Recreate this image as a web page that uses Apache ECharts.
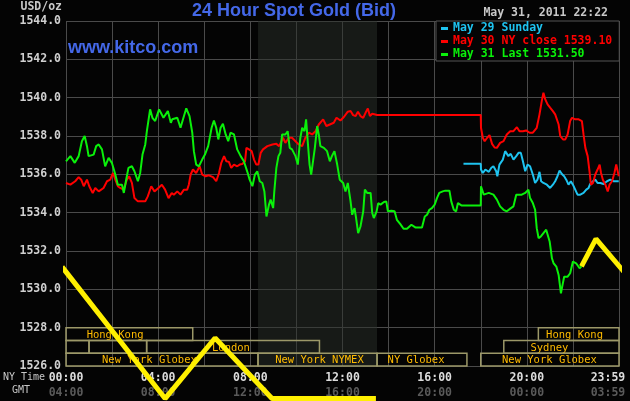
<!DOCTYPE html>
<html>
<head>
<meta charset="utf-8">
<script src="https://cdn.jsdelivr.net/npm/echarts@6/dist/echarts.min.js"></script>
<style>
html,body{margin:0;padding:0;background:#040404;}
#chart{width:630px;height:401px;}
</style>
</head>
<body>
<div id="chart"></div>
<script>
// ---- data (hours NY time, USD/oz) ----
const may29 = [[17.25,1536.55],[18.0,1536.55],[18.01,1536.25],[18.09,1536.07],[18.2,1536.25],[18.35,1536.13],[18.46,1536.34],[18.55,1536.42],[18.67,1536.16],[18.72,1535.9],[18.81,1536.51],[18.96,1536.77],[19.06,1537.21],[19.2,1536.95],[19.3,1537.07],[19.42,1536.77],[19.54,1536.95],[19.64,1537.12],[19.74,1537.12],[19.83,1536.68],[19.93,1536.16],[20.03,1536.51],[20.14,1536.42],[20.26,1535.99],[20.36,1535.55],[20.46,1535.72],[20.55,1536.13],[20.62,1535.64],[20.72,1535.55],[20.87,1535.46],[21.01,1535.29],[21.13,1535.46],[21.23,1535.64],[21.33,1535.9],[21.42,1536.2],[21.52,1536.02],[21.62,1535.9],[21.71,1535.72],[21.81,1535.46],[21.91,1535.64],[22.0,1535.46],[22.1,1535.2],[22.2,1534.94],[22.32,1534.94],[22.46,1535.03],[22.58,1535.2],[22.68,1535.29],[22.75,1535.5],[22.87,1535.64],[22.97,1535.72],[23.07,1535.55],[23.19,1535.55],[23.33,1535.5],[23.48,1535.64],[23.62,1535.72],[23.77,1535.64],[23.91,1535.64],[23.99,1535.64]];

const may30 = [[0,1535.55],[0.19,1535.46],[0.4,1535.64],[0.55,1535.85],[0.66,1535.72],[0.77,1535.38],[0.91,1535.72],[1.01,1535.38],[1.16,1535.03],[1.27,1535.29],[1.42,1535.11],[1.63,1535.29],[1.78,1535.64],[1.92,1535.72],[2.04,1536.07],[2.14,1535.72],[2.25,1535.38],[2.35,1535.29],[2.5,1535.2],[2.64,1535.72],[2.74,1535.9],[2.86,1535.55],[2.97,1534.76],[3.12,1534.59],[3.29,1534.59],[3.44,1534.59],[3.55,1534.85],[3.7,1535.38],[3.84,1535.11],[4.01,1535.29],[4.16,1535.46],[4.3,1535.2],[4.45,1534.76],[4.59,1535.03],[4.68,1534.94],[4.83,1535.11],[4.97,1534.94],[5.12,1535.2],[5.26,1535.2],[5.33,1535.46],[5.41,1535.99],[5.51,1536.25],[5.65,1536.07],[5.8,1536.42],[5.91,1535.99],[6.06,1535.9],[6.2,1535.95],[6.38,1535.85],[6.52,1535.64],[6.64,1536.07],[6.74,1536.6],[6.86,1536.95],[6.96,1536.68],[7.07,1536.65],[7.17,1536.34],[7.29,1536.51],[7.43,1536.42],[7.54,1536.51],[7.65,1536.54],[7.77,1536.68],[7.83,1537.38],[7.94,1537.3],[8.06,1537.21],[8.16,1536.77],[8.26,1536.51],[8.35,1536.51],[8.45,1537.12],[8.55,1537.3],[8.74,1537.47],[8.96,1537.56],[9.13,1537.59],[9.25,1537.47],[9.3,1537.47],[9.42,1537.91],[9.52,1537.64],[9.67,1537.91],[9.81,1537.91],[9.96,1537.73],[10.1,1537.56],[10.25,1537.47],[10.39,1537.91],[10.54,1538.17],[10.68,1538.08],[10.83,1538.25],[10.97,1538.6],[11.16,1538.87],[11.3,1538.52],[11.45,1538.6],[11.62,1538.69],[11.74,1538.95],[11.91,1538.81],[12.06,1538.99],[12.23,1539.27],[12.35,1539.3],[12.46,1539.09],[12.57,1539.04],[12.67,1539.27],[12.78,1539.04],[12.9,1538.95],[13.0,1539.21],[13.1,1539.44],[13.19,1539.04],[13.29,1539.16],[13.5,1539.1],[18.0,1539.1],[18.01,1538.43],[18.09,1537.91],[18.17,1537.73],[18.28,1537.91],[18.38,1538.05],[18.49,1537.59],[18.6,1537.4],[18.7,1537.38],[18.84,1537.64],[18.99,1537.73],[19.13,1538.08],[19.28,1538.25],[19.42,1538.25],[19.57,1538.46],[19.68,1538.25],[19.83,1538.25],[19.97,1538.29],[20.12,1538.17],[20.26,1538.17],[20.43,1538.43],[20.55,1539.13],[20.65,1539.83],[20.72,1540.26],[20.8,1539.91],[20.9,1539.65],[21.01,1539.48],[21.13,1539.3],[21.23,1539.13],[21.3,1539.13],[21.38,1538.6],[21.45,1537.99],[21.57,1537.82],[21.67,1537.82],[21.77,1538.08],[21.88,1538.78],[21.96,1538.95],[22.1,1538.87],[22.25,1538.87],[22.39,1538.78],[22.46,1538.08],[22.54,1537.38],[22.64,1536.95],[22.72,1536.16],[22.78,1535.46],[22.87,1535.55],[22.97,1535.99],[23.07,1536.25],[23.16,1536.51],[23.22,1536.07],[23.3,1535.72],[23.41,1535.46],[23.51,1535.11],[23.59,1535.46],[23.7,1535.64],[23.8,1536.07],[23.88,1536.51],[23.94,1536.51],[23.99,1535.9]];

const may31 = [[0,1536.68],[0.19,1536.95],[0.38,1536.6],[0.55,1536.95],[0.69,1537.73],[0.81,1538.0],[0.91,1537.47],[0.98,1536.95],[1.2,1537.03],[1.31,1537.47],[1.42,1537.56],[1.56,1537.3],[1.7,1536.42],[1.85,1536.86],[1.99,1536.6],[2.14,1535.99],[2.25,1535.46],[2.43,1535.46],[2.51,1535.03],[2.6,1535.64],[2.71,1536.34],[2.86,1536.42],[2.97,1536.16],[3.12,1535.64],[3.22,1536.07],[3.32,1537.03],[3.44,1537.56],[3.51,1538.25],[3.65,1539.39],[3.75,1538.95],[3.87,1538.78],[4.04,1539.39],[4.23,1538.95],[4.42,1539.3],[4.55,1538.69],[4.61,1538.87],[4.83,1538.95],[4.97,1538.43],[5.12,1539.04],[5.22,1539.44],[5.36,1539.04],[5.48,1538.17],[5.55,1537.21],[5.65,1536.51],[5.77,1536.42],[5.91,1536.77],[6.03,1537.03],[6.17,1537.47],[6.32,1538.43],[6.42,1538.81],[6.52,1538.43],[6.61,1537.82],[6.71,1538.43],[6.81,1538.64],[6.93,1538.08],[7.04,1537.73],[7.14,1538.17],[7.29,1538.08],[7.43,1537.3],[7.58,1536.95],[7.72,1536.68],[7.87,1536.13],[7.97,1535.72],[8.09,1535.38],[8.2,1535.99],[8.3,1536.16],[8.41,1535.64],[8.52,1535.55],[8.61,1535.11],[8.7,1533.8],[8.81,1534.42],[8.88,1534.68],[8.99,1534.24],[9.04,1535.11],[9.13,1536.34],[9.22,1536.95],[9.3,1537.12],[9.38,1538.08],[9.52,1538.08],[9.62,1538.25],[9.71,1537.38],[9.81,1537.3],[9.96,1536.95],[10.06,1536.51],[10.17,1537.91],[10.25,1538.43],[10.35,1538.25],[10.42,1538.87],[10.49,1537.73],[10.57,1536.51],[10.64,1535.99],[10.72,1536.68],[10.8,1537.38],[10.9,1538.52],[10.97,1538.08],[11.04,1537.47],[11.19,1537.38],[11.33,1537.21],[11.45,1536.68],[11.54,1536.95],[11.65,1537.21],[11.77,1536.51],[11.88,1535.72],[12.03,1535.55],[12.13,1535.11],[12.23,1535.55],[12.35,1534.59],[12.42,1533.89],[12.52,1534.24],[12.59,1533.72],[12.68,1532.93],[12.78,1533.28],[12.9,1534.07],[12.97,1535.2],[13.07,1535.03],[13.22,1535.03],[13.29,1533.98],[13.36,1533.72],[13.48,1534.07],[13.55,1534.5],[13.65,1534.42],[13.8,1534.56],[13.9,1534.59],[13.97,1534.07],[14.12,1534.1],[14.26,1534.07],[14.36,1533.63],[14.51,1533.4],[14.65,1533.16],[14.8,1533.16],[14.99,1533.37],[15.16,1533.23],[15.45,1533.23],[15.57,1533.8],[15.67,1533.89],[15.77,1534.15],[15.88,1534.24],[16.0,1534.42],[16.1,1534.76],[16.2,1535.03],[16.35,1535.11],[16.46,1535.15],[16.64,1535.15],[16.72,1534.59],[16.83,1534.15],[16.93,1534.07],[17.01,1534.5],[17.16,1534.38],[18.0,1534.38],[18.01,1535.38],[18.13,1534.94],[18.35,1535.03],[18.55,1534.94],[18.7,1534.68],[18.84,1534.33],[18.99,1534.15],[19.13,1534.07],[19.28,1534.21],[19.42,1534.33],[19.54,1534.94],[19.64,1534.94],[19.78,1534.94],[19.93,1535.03],[20.07,1535.2],[20.14,1534.76],[20.26,1534.5],[20.36,1534.15],[20.43,1533.19],[20.51,1532.67],[20.61,1532.76],[20.72,1532.93],[20.84,1533.11],[20.91,1533.16],[20.99,1532.5],[21.09,1531.62],[21.16,1531.36],[21.28,1531.19],[21.38,1530.75],[21.48,1529.79],[21.55,1530.23],[21.62,1530.66],[21.77,1530.66],[21.88,1530.84],[22.0,1531.45],[22.14,1531.36],[22.29,1531.1],[22.37,1531.2]];

// yellow scribble overlay
const scribbleA = [[-0.17,1531.17],[4.3,1524.3],[6.47,1527.46],[8.94,1524.3],[13.45,1524.3]];
const scribbleB = [[22.37,1531.2],[23.0,1532.63],[24.48,1530.54]];

// axis ticks
const yMin = 1526, yMax = 1544, yStep = 2;
const xLabelHours = [0,4,8,12,16,20,23.52];
const nyTimeLabels = ['00:00','04:00','08:00','12:00','16:00','20:00','23:59'];
const gmtLabels = ['04:00','08:00','12:00','16:00','20:00','00:00','03:59'];

// NYMEX floor session (shaded)
const nymexHours = [8.333, 13.5];

// trading sessions
const sessionNames = ['Hong Kong','Hong Kong','','','London','Sydney','New York Globex','New York NYMEX','NY Globex','New York Globex'];
const sessionStart = [0,20.5,0,1,3.5,19,0,8.333,13.5,18];
const sessionEnd   = [5.5,24,1,3.5,11,24,8.333,13.5,17.4,24];
const sessionRow   = [1,1,2,2,2,2,3,3,3,3];
const sessionLabelAt = [2.13,22.07,null,null,7.16,20.98,3.62,11.0,15.19,20.98];

const seriesNames = ['May 29 Sunday','May 30 NY close 1539.10','May 31 Last 1531.50'];
const colors = ['#1ec3f0','#ff0000','#0af00a'];

// ---- chart ----
const chart = echarts.init(document.getElementById('chart'));
const mono = 'DejaVu Sans Mono';
const sessionData = sessionStart.map((s,i)=>[s, sessionEnd[i], sessionRow[i], sessionLabelAt[i]==null?-1:sessionLabelAt[i]]);

const labelIdx = v => xLabelHours.findIndex(h => Math.abs(h - v) < 1e-6);

chart.setOption({
  backgroundColor: '#040404',
  animation: false,
  title: [
    {text:'24 Hour Spot Gold (Bid)', left:294, top:2, padding:0, textAlign:'center',
     textStyle:{color:'#4468e8', fontFamily:'Liberation Sans', fontSize:18, fontWeight:'bold'}},
    {text:'www.kitco.com', left:68, top:39, padding:0,
     textStyle:{color:'#4468e8', fontFamily:'Liberation Sans', fontSize:18, fontWeight:'bold'}},
    {text:'May 31, 2011 22:22', right:22, top:7, padding:0,
     textStyle:{color:'#c8c8c8', fontFamily:mono, fontSize:11.5, fontWeight:'bold'}}
  ],
  legend: {
    orient:'vertical', left:436, top:21, padding:[1,7,0,5], itemGap:0,
    itemWidth:7, itemHeight:3, icon:'rect',
    backgroundColor:'#040404', borderColor:'#555', borderWidth:1,
    textStyle:{fontFamily:mono, fontWeight:'bold', fontSize:11.5, lineHeight:13},
    data: seriesNames.map((n,i)=>({name:n, textStyle:{color:colors[i]}}))
  },
  graphic: [
    {type:'text', left:3, top:372, style:{text:'NY Time', fill:'#c8c8c8', font:'10px "DejaVu Sans Mono"'}},
    {type:'text', left:12, top:385, style:{text:'GMT', fill:'#c8c8c8', font:'10px "DejaVu Sans Mono"'}}
  ],
  grid: {left:66, right:11, top:21, bottom:35, containLabel:false},
  xAxis: [
    {type:'value', min:0, max:24, interval:2,
     axisLine:{show:false}, axisTick:{show:false}, axisLabel:{show:false},
     splitLine:{show:true, lineStyle:{color:'#4a4a4a', width:1}}},
    {type:'value', min:0, max:24, position:'bottom',
     axisLine:{show:false}, axisTick:{show:false}, splitLine:{show:false},
     axisLabel:{customValues:xLabelHours, margin:6, color:'#dcdcdc', fontFamily:mono, fontWeight:'bold', fontSize:11.5,
       formatter:v=>{const i=labelIdx(v); return i<0?'':nyTimeLabels[i];}}},
    {type:'value', min:0, max:24, position:'bottom', offset:15,
     axisLine:{show:false}, axisTick:{show:false}, splitLine:{show:false},
     axisLabel:{customValues:xLabelHours, margin:6, color:'#5a5a5a', fontFamily:mono, fontWeight:'bold', fontSize:11.5,
       formatter:v=>{const i=labelIdx(v); return i<0?'':gmtLabels[i];}}}
  ],
  yAxis: {
    type:'value', min:yMin, max:yMax, interval:yStep,
    name:'USD/oz', nameLocation:'end', nameGap:8,
    nameTextStyle:{color:'#c8c8c8', fontFamily:mono, fontWeight:'bold', fontSize:11.5, align:'right', padding:[0,4,0,0]},
    axisLine:{show:false}, axisTick:{show:false},
    axisLabel:{formatter:v=>v.toFixed(1), color:'#d0d0d0', fontFamily:mono, fontWeight:'bold', fontSize:11.5, margin:5},
    splitLine:{show:true, lineStyle:{color:'#4a4a4a', width:1}}
  },
  series: [
    {type:'line', name:'band', data:[], z:1, silent:true,
     markArea:{silent:true, itemStyle:{color:'rgba(42,48,42,0.5)'},
       data:[[{xAxis:nymexHours[0]},{xAxis:nymexHours[1]}]]}},
    {type:'custom', name:'sessions', z:3, silent:true, data:sessionData,
     renderItem:(params, api)=>{
       const s=api.value(0), e=api.value(1), row=api.value(2), lab=api.value(3);
       const top = yMin + 2 - (row-1)*2/3, bot = top - 2/3;
       const p1 = api.coord([s, top]), p2 = api.coord([e, bot]);
       const children = [{type:'rect', shape:{x:p1[0], y:p1[1], width:p2[0]-p1[0], height:p2[1]-p1[1]},
         style:{fill:null, stroke:'#9c9868', lineWidth:1.5}}];
       const name = sessionNames[params.dataIndex];
       if (name && lab >= 0) {
         const c = api.coord([lab, (top+bot)/2]);
         children.push({type:'text', style:{text:name, x:c[0], y:c[1]+1, align:'center', verticalAlign:'middle',
           fill:'#ffbb00', font:'10.5px "DejaVu Sans Mono"'}});
       }
       return {type:'group', children};
     }},
    {type:'line', name:seriesNames[0], data:may29, z:4, symbol:'none', color:colors[0], lineStyle:{width:2, color:colors[0]}},
    {type:'line', name:seriesNames[1], data:may30, z:4, symbol:'none', color:colors[1], lineStyle:{width:2, color:colors[1]}},
    {type:'line', name:seriesNames[2], data:may31, z:4, symbol:'none', color:colors[2], lineStyle:{width:2, color:colors[2]}},
    {type:'line', name:'scribbleA', data:scribbleA, z:6, clip:false, symbol:'none', lineStyle:{width:5, color:'#fff000'}},
    {type:'line', name:'scribbleB', data:scribbleB, z:6, clip:false, symbol:'none', lineStyle:{width:5, color:'#fff000'}}
  ]
});
</script>
</body>
</html>
